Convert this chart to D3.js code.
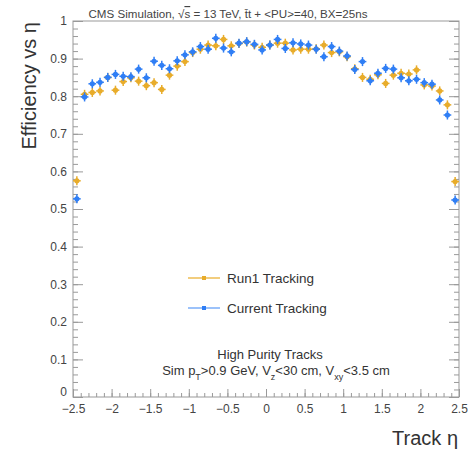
<!DOCTYPE html>
<html>
<head>
<meta charset="utf-8">
<script src="https://cdn.jsdelivr.net/npm/d3@7"></script>
<style>
  body { margin: 0; background: #fff; }
  text { font-family: "Liberation Sans", Arial, sans-serif; }
</style>
</head>
<body>
<div id="chart"></div>
<script>
// eta bin centres
var etaBins = [-2.45, -2.35, -2.25, -2.15, -2.05, -1.95, -1.85, -1.75, -1.65, -1.55,
  -1.45, -1.35, -1.25, -1.15, -1.05, -0.95, -0.85, -0.75, -0.65, -0.55,
  -0.45, -0.35, -0.25, -0.15, -0.05, 0.05, 0.15, 0.25, 0.35, 0.45,
  0.55, 0.65, 0.75, 0.85, 0.95, 1.05, 1.15, 1.25, 1.35, 1.45,
  1.55, 1.65, 1.75, 1.85, 1.95, 2.05, 2.15, 2.25, 2.35, 2.45];

var run1Eff = [0.575, 0.805, 0.810, 0.814, 0.850, 0.816, 0.839, 0.849, 0.840, 0.828,
  0.836, 0.818, 0.856, 0.880, 0.892, 0.916, 0.925, 0.936, 0.934, 0.951,
  0.934, 0.940, 0.944, 0.936, 0.930, 0.936, 0.941, 0.941, 0.923, 0.925,
  0.925, 0.926, 0.936, 0.916, 0.918, 0.905, 0.873, 0.850, 0.845, 0.857,
  0.834, 0.856, 0.861, 0.859, 0.870, 0.830, 0.827, 0.814, 0.777, 0.573];

var currentEff = [0.527, 0.798, 0.833, 0.837, 0.850, 0.858, 0.853, 0.852, 0.872, 0.849,
  0.893, 0.882, 0.873, 0.894, 0.910, 0.918, 0.932, 0.925, 0.954, 0.928,
  0.918, 0.941, 0.945, 0.938, 0.923, 0.936, 0.951, 0.927, 0.942, 0.939,
  0.936, 0.925, 0.905, 0.932, 0.920, 0.907, 0.871, 0.892, 0.841, 0.861,
  0.874, 0.872, 0.849, 0.841, 0.845, 0.836, 0.832, 0.790, 0.750, 0.524];

var effErr = 0.012;
var binHalf = 0.05;

var xMajor = [-2.5, -2, -1.5, -1, -0.5, 0, 0.5, 1, 1.5, 2, 2.5];
var yMajor = [0, 0.1, 0.2, 0.3, 0.4, 0.5, 0.6, 0.7, 0.8, 0.9, 1];

var seriesList = [
  { name: "Run1 Tracking", values: run1Eff, color: "#e8ac2a", light: "#f2cd7e" },
  { name: "Current Tracking", values: currentEff, color: "#2f7ef5", light: "#9cc2fa" }
];

var svgWidth = 468;
var svgHeight = 450;
var margin = { top: 21, right: 9, bottom: 53, left: 73 };
var width = svgWidth - margin.left - margin.right;
var height = svgHeight - margin.top - margin.bottom;

var svg = d3.select("#chart")
  .append("svg")
  .attr("width", svgWidth)
  .attr("height", svgHeight);

var chartGroup = svg.append("g")
  .attr("transform", `translate(${margin.left}, ${margin.top})`);

var xScale = d3.scaleLinear().domain([-2.5, 2.5]).range([0, width]);
var yScale = d3.scaleLinear().domain([0, 1]).range([height, 0]);

// frame
chartGroup.append("rect")
  .attr("width", width)
  .attr("height", height)
  .attr("fill", "none")
  .attr("stroke", "#999")
  .attr("stroke-width", 1);

function styleAxis(g) {
  g.select(".domain").remove();
  g.selectAll("line").attr("stroke", "#999");
  g.selectAll("text").attr("fill", "#444").style("font-size", "12px");
}

// x axis: minor and major ticks pointing in
chartGroup.append("g")
  .attr("transform", `translate(0, ${height})`)
  .call(d3.axisBottom(xScale).tickValues(d3.range(-25, 26).map(d => d / 10)).tickSize(-4).tickFormat(""))
  .call(styleAxis);
chartGroup.append("g")
  .attr("transform", `translate(0, ${height})`)
  .call(d3.axisBottom(xScale).tickValues(xMajor).tickSize(-8).tickPadding(7).tickFormat(d3.format("~g")))
  .call(styleAxis);

// y axis left and right
var yMinor = d3.range(0, 51).map(d => d / 50);
chartGroup.append("g")
  .call(d3.axisLeft(yScale).tickValues(yMinor).tickSize(-5).tickFormat(""))
  .call(styleAxis);
var yAxisLeft = chartGroup.append("g")
  .call(d3.axisLeft(yScale).tickValues(yMajor).tickSize(-10).tickPadding(6).tickFormat(d3.format("~g")))
  .call(styleAxis);
// lift the "0" a little so it sits above the -2.5 label
yAxisLeft.selectAll("text").filter(d => d === 0).attr("dy", "-0.1em");
chartGroup.append("g")
  .attr("transform", `translate(${width}, 0)`)
  .call(d3.axisRight(yScale).tickValues(yMinor).tickSize(-5).tickFormat(""))
  .call(styleAxis);
chartGroup.append("g")
  .attr("transform", `translate(${width}, 0)`)
  .call(d3.axisRight(yScale).tickValues(yMajor).tickSize(-10).tickFormat(""))
  .call(styleAxis);

// points with error bars
seriesList.forEach(function(s) {
  var pts = etaBins.map((e, i) => ({ eta: e, eff: s.values[i] }));
  var g = chartGroup.append("g");

  g.selectAll(".hbar")
    .data(pts)
    .enter()
    .append("line")
    .attr("x1", d => xScale(d.eta - binHalf))
    .attr("x2", d => xScale(d.eta + binHalf))
    .attr("y1", d => yScale(d.eff))
    .attr("y2", d => yScale(d.eff))
    .attr("stroke", s.color)
    .attr("stroke-width", 1.5);

  g.selectAll(".vbar")
    .data(pts)
    .enter()
    .append("line")
    .attr("x1", d => xScale(d.eta))
    .attr("x2", d => xScale(d.eta))
    .attr("y1", d => yScale(d.eff - effErr))
    .attr("y2", d => yScale(d.eff + effErr))
    .attr("stroke", s.color)
    .attr("stroke-width", 1.5);

  g.selectAll("circle")
    .data(pts)
    .enter()
    .append("circle")
    .attr("cx", d => xScale(d.eta))
    .attr("cy", d => yScale(d.eff))
    .attr("r", 2.6)
    .attr("fill", s.color);
});

// legend
var legend = svg.append("g").attr("transform", "translate(188, 278)");
seriesList.forEach(function(s, i) {
  var row = legend.append("g").attr("transform", `translate(0, ${i * 30})`);
  row.append("line")
    .attr("x1", 0).attr("x2", 32)
    .attr("stroke", s.light)
    .attr("stroke-width", 2);
  row.append("rect")
    .attr("x", 14).attr("y", -2).attr("width", 4).attr("height", 4)
    .attr("fill", s.color);
  row.append("text")
    .attr("x", 39).attr("dy", "0.35em")
    .attr("fill", "#333")
    .style("font-size", "13.5px")
    .text(s.name);
});

// title
var title = svg.append("text")
  .attr("x", 228).attr("y", 18)
  .attr("text-anchor", "middle")
  .attr("fill", "#444")
  .style("font-size", "11.6px");
title.append("tspan").text("CMS Simulation,  \u221A");
title.append("tspan").style("text-decoration", "overline").text("s");
title.append("tspan").text(" = 13 TeV, t\u0304t + <PU>=40, BX=25ns");

// axis titles
svg.append("text")
  .attr("transform", "rotate(-90)")
  .attr("x", -22).attr("y", 36)
  .attr("text-anchor", "end")
  .attr("fill", "#333")
  .style("font-size", "20px")
  .text("Efficiency vs \u03B7");

svg.append("text")
  .attr("x", 458).attr("y", 445)
  .attr("text-anchor", "end")
  .attr("fill", "#333")
  .style("font-size", "20px")
  .text("Track \u03B7");

// selection notes
svg.append("text")
  .attr("x", 270).attr("y", 359)
  .attr("text-anchor", "middle")
  .attr("fill", "#333")
  .style("font-size", "13px")
  .text("High Purity Tracks");

var note = svg.append("text")
  .attr("x", 276).attr("y", 375)
  .attr("text-anchor", "middle")
  .attr("fill", "#333")
  .style("font-size", "13px");
note.append("tspan").text("Sim p");
note.append("tspan").attr("baseline-shift", "sub").style("font-size", "9px").text("T");
note.append("tspan").text(">0.9 GeV, V");
note.append("tspan").attr("baseline-shift", "sub").style("font-size", "9px").text("z");
note.append("tspan").text("<30 cm, V");
note.append("tspan").attr("baseline-shift", "sub").style("font-size", "9px").text("xy");
note.append("tspan").text("<3.5 cm");
</script>
</body>
</html>
